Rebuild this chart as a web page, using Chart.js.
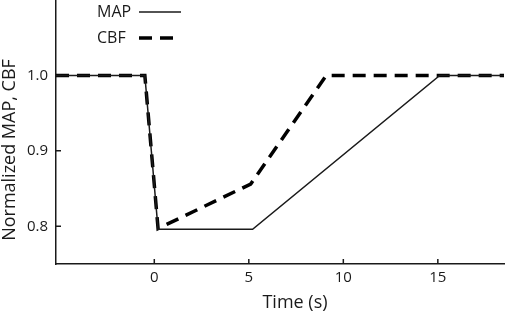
<!DOCTYPE html>
<html>
<head>
<meta charset="utf-8">
<script src="https://cdn.jsdelivr.net/npm/chart.js@4"></script>
<style>
  html, body { margin: 0; padding: 0; background: #fff; }
  #wrap { width: 510px; height: 315px; }
</style>
</head>
<body>
<div id="wrap"><canvas id="chart" width="510" height="315"></canvas></div>
<script>
// ===== data =====
const mapTime = [-5.2, -0.5, 0.2, 5.2, 15.1, 18.5];
const mapValue = [1.0, 1.0, 0.796, 0.796, 1.0, 1.0];
const cbfTime = [-5.2, -0.5, 0.2, 5.1, 9.1, 18.5];
const cbfValue = [1.0, 1.0, 0.797, 0.856, 1.0, 1.0];

const xTicks = [0, 5, 10, 15];
const yTicks = [0.8, 0.9, 1.0];
const xRange = [-5.2, 18.5];
const yRange = [0.75, 1.1];

const ink = '#1a1a1a';
const FONT = '"Open Sans", "DejaVu Sans", sans-serif';

function toPoints(xs, ys) {
  return xs.map((x, i) => ({ x: x, y: ys[i] }));
}

// inward tick marks + legend + axis titles
const decor = {
  id: 'decor',
  afterDraw(chart) {
    const c = chart.ctx;
    const xs = chart.scales.x, ys = chart.scales.y;
    const area = chart.chartArea;
    c.save();
    c.strokeStyle = ink;
    c.lineWidth = 1.5;
    c.beginPath();
    xTicks.forEach(v => {
      const px = xs.getPixelForValue(v);
      c.moveTo(px, area.bottom);
      c.lineTo(px, area.bottom - 5);
    });
    yTicks.forEach(v => {
      const py = ys.getPixelForValue(v);
      c.moveTo(area.left, py);
      c.lineTo(area.left + 5, py);
    });
    c.stroke();

    // legend (text first, sample line after)
    c.fillStyle = ink;
    c.font = '16px ' + FONT;
    c.textBaseline = 'middle';
    c.textAlign = 'left';
    chart.data.datasets.forEach((ds, i) => {
      const y = 12 + i * 26;
      c.fillText(ds.label, 97, y);
      c.save();
      c.strokeStyle = ds.borderColor;
      c.lineWidth = ds.borderWidth;
      c.setLineDash(ds.borderDash || []);
      c.lineCap = 'butt';
      c.beginPath();
      c.moveTo(139, y);
      c.lineTo(i === 0 ? 181 : 176, y);
      c.stroke();
      c.restore();
    });

    // axis titles
    c.font = '18px ' + FONT;
    c.textAlign = 'center';
    c.fillText('Time (s)', 295, 303);
    c.translate(10, 150);
    c.rotate(-Math.PI / 2);
    c.fillText('Normalized MAP, CBF', 0, 0);
    c.restore();
  }
};

const chart = new Chart(document.getElementById('chart').getContext('2d'), {
  type: 'line',
  data: {
    datasets: [
      {
        label: 'MAP',
        data: toPoints(mapTime, mapValue),
        borderColor: ink,
        borderWidth: 1.5,
        pointRadius: 0,
        tension: 0
      },
      {
        label: 'CBF',
        data: toPoints(cbfTime, cbfValue),
        borderColor: '#000',
        borderWidth: 3.5,
        borderDash: [13, 8],
        borderCapStyle: 'butt',
        pointRadius: 0,
        tension: 0
      }
    ]
  },
  options: {
    responsive: false,
    animation: false,
    layout: { padding: { top: 0, right: 6, left: 0, bottom: 0 } },
    plugins: { legend: { display: false }, tooltip: { enabled: false } },
    scales: {
      x: {
        type: 'linear',
        min: xRange[0],
        max: xRange[1],
        grid: { display: false, drawTicks: false, tickLength: 0 },
        border: { display: true, color: ink, width: 1.5 },
        ticks: {
          includeBounds: false,
          padding: 5,
          color: ink,
          font: { family: FONT, size: 15 },
          callback: v => String(v)
        },
        afterBuildTicks: s => { s.ticks = xTicks.map(v => ({ value: v })); },
        afterFit: s => { s.height = 51; s.paddingLeft = 0; s.paddingRight = 0; }
      },
      y: {
        min: yRange[0],
        max: yRange[1],
        grid: { display: false, drawTicks: false, tickLength: 0 },
        border: { display: true, color: ink, width: 1.5 },
        ticks: {
          padding: 8,
          color: ink,
          font: { family: FONT, size: 15 },
          callback: v => Number(v).toFixed(1)
        },
        afterBuildTicks: s => { s.ticks = yTicks.map(v => ({ value: v })); },
        afterFit: s => { s.width = 56; s.paddingTop = 0; s.paddingBottom = 0; }
      }
    }
  },
  plugins: [decor]
});
</script>
</body>
</html>
